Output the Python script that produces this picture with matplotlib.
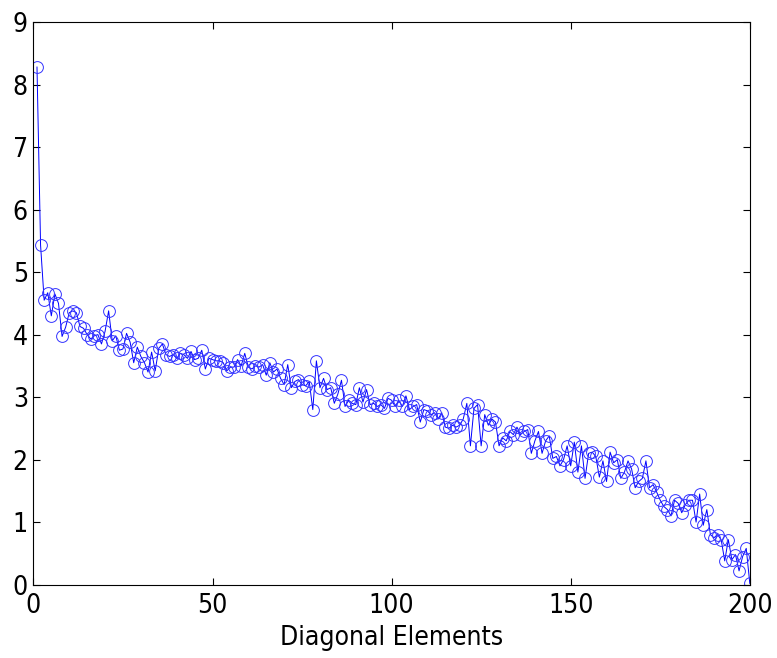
import matplotlib
matplotlib.use("Agg")
import matplotlib.pyplot as plt
import numpy as np

# diagonal elements (index 1..200)
idx = np.arange(1, 201)
vals = [
    8.28, 5.43, 4.55, 4.67, 4.30, 4.65, 4.50, 3.97, 4.12, 4.35,
    4.38, 4.35, 4.13, 4.10, 4.00, 3.93, 3.98, 4.00, 3.85, 4.05,
    4.38, 3.90, 3.98, 3.75, 3.77, 4.02, 3.88, 3.55, 3.80, 3.65,
    3.55, 3.40, 3.72, 3.42, 3.78, 3.85, 3.68, 3.65, 3.68, 3.62,
    3.70, 3.68, 3.62, 3.73, 3.60, 3.62, 3.75, 3.45, 3.62, 3.60,
    3.58, 3.58, 3.55, 3.42, 3.48, 3.48, 3.60, 3.50, 3.70, 3.48,
    3.45, 3.50, 3.48, 3.52, 3.35, 3.55, 3.40, 3.45, 3.30, 3.20,
    3.52, 3.15, 3.25, 3.28, 3.20, 3.18, 3.25, 2.80, 3.58, 3.15,
    3.30, 3.12, 3.15, 2.90, 3.05, 3.27, 2.85, 2.95, 2.90, 2.88,
    3.15, 2.92, 3.12, 2.88, 2.90, 2.85, 2.88, 2.82, 2.98, 2.95,
    2.85, 2.95, 2.85, 3.02, 2.80, 2.85, 2.88, 2.60, 2.80, 2.78,
    2.72, 2.75, 2.65, 2.75, 2.52, 2.50, 2.55, 2.52, 2.55, 2.65,
    2.90, 2.22, 2.82, 2.88, 2.22, 2.72, 2.55, 2.65, 2.60, 2.22,
    2.35, 2.30, 2.45, 2.40, 2.52, 2.40, 2.45, 2.48, 2.10, 2.30,
    2.45, 2.10, 2.30, 2.38, 2.02, 2.05, 1.90, 2.00, 2.22, 1.90,
    2.28, 1.80, 2.22, 1.70, 2.10, 2.12, 2.05, 1.72, 1.98, 1.65,
    2.12, 1.95, 2.00, 1.70, 1.80, 1.98, 1.85, 1.55, 1.65, 1.70,
    1.98, 1.55, 1.60, 1.48, 1.35, 1.25, 1.20, 1.10, 1.35, 1.30,
    1.15, 1.28, 1.35, 1.35, 1.00, 1.45, 0.95, 1.20, 0.80, 0.75,
    0.80, 0.72, 0.38, 0.72, 0.40, 0.48, 0.22, 0.45, 0.58, 0.02,
]
xticks = [0, 50, 100, 150, 200]
yticks = list(range(10))

plt.rcParams["font.family"] = ["DejaVu Sans"]
plt.rcParams["font.stretch"] = "condensed"

fig = plt.figure(figsize=(7.77, 6.58), dpi=100)
ax = fig.add_axes([0.043, 0.1115, 0.922, 0.855])

ax.plot(idx, vals, color="blue", lw=0.7, marker="o", ms=8.5,
        mfc="none", mec="#3333ff", mew=0.7)

ax.set_xlim(0, 200)
ax.set_ylim(0, 9)
ax.set_xticks(xticks)
ax.set_yticks(yticks)
ax.tick_params(direction="in", length=5, top=True, right=True,
               labelsize=19, width=0.8)
ax.tick_params(axis="x", pad=6)
ax.tick_params(axis="y", pad=4)
for s in ax.spines.values():
    s.set_linewidth(0.8)
ax.set_xlabel("Diagonal Elements", fontsize=19, labelpad=4)

plt.savefig("out.png", dpi=100)
